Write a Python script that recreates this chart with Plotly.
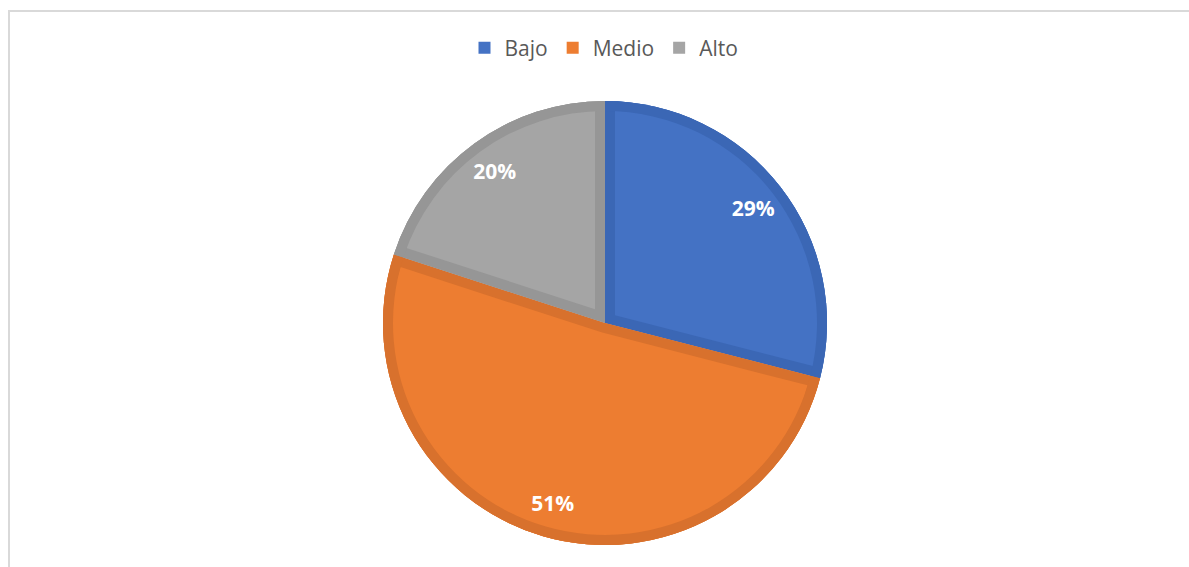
import math
import plotly.graph_objects as go

# ---- data ----
labels = ["Bajo", "Medio", "Alto"]
values = [29, 51, 20]

# ---- styles ----
light_colors = ["#4472C4", "#ED7D31", "#A5A5A5"]
dark_colors = ["#3B67B5", "#D8712D", "#969696"]
TRANSPARENT = "rgba(0,0,0,0)"

W, H = 1189, 567
M_L, M_R, M_T, M_B = 21, 0, 101, 22
R = min(W - M_L - M_R, H - M_T - M_B) / 2.0   # pie radius in px
BAND = 10.0                                    # darker inner border width in px

total = float(sum(values))
common = dict(labels=labels, values=values, sort=False, direction="clockwise",
              rotation=0, hoverinfo="skip", textinfo="none")

fig = go.Figure()

# legend carrier (fully hidden beneath the dark pie)
fig.add_trace(go.Pie(marker=dict(colors=light_colors, line=dict(width=0)),
                     showlegend=True, **common))

# dark full pie (border colour)
fig.add_trace(go.Pie(marker=dict(colors=dark_colors, line=dict(width=0)),
                     showlegend=False, **common))

# light inner part of every slice: pulled so that its radial edges sit BAND px inside
for k in range(len(values)):
    theta = 2 * math.pi * values[k] / total
    d = BAND / math.sin(theta / 2)
    p = d / (R - d)
    cols = [light_colors[k] if j == k else TRANSPARENT for j in range(len(values))]
    pulls = [p if j == k else 0 for j in range(len(values))]
    fig.add_trace(go.Pie(marker=dict(colors=cols, line=dict(width=0)),
                         pull=pulls, showlegend=False, **common))

# dark outer ring (arc border)
fig.add_trace(go.Pie(marker=dict(colors=dark_colors, line=dict(width=0)),
                     hole=(R - BAND) / R, showlegend=False, **common))

# labels
text_common = dict(common)
text_common.pop("textinfo")
fig.add_trace(go.Pie(marker=dict(colors=[TRANSPARENT] * len(values), line=dict(width=0)),
                     hole=0.69, showlegend=False,
                     texttemplate="%{percent:.0%}", textposition="inside",
                     insidetextorientation="horizontal",
                     textfont=dict(family="Open Sans", size=21, color="white", weight="bold"),
                     **text_common))

px_to_x = lambda px: (px - M_L) / (W - M_L - M_R)
py_to_y = lambda py: (H - M_B - py) / (H - M_T - M_B)

fig.update_layout(
    width=W, height=H, autosize=False,
    margin=dict(l=M_L, r=M_R, t=M_T, b=M_B),
    paper_bgcolor="white", plot_bgcolor="white",
    font=dict(family="Open Sans", color="#595959"),
    legend=dict(orientation="h", x=px_to_x(604), xanchor="center",
                y=py_to_y(48), yanchor="middle",
                font=dict(family="Open Sans", size=21, color="#595959"),
                itemwidth=30, bgcolor="rgba(0,0,0,0)"),
    shapes=[dict(type="rect", xref="paper", yref="paper",
                 x0=px_to_x(9), x1=px_to_x(W + 20),
                 y0=py_to_y(H + 20), y1=py_to_y(11),
                 line=dict(color="#D9D9D9", width=2), fillcolor=TRANSPARENT,
                 layer="below")],
)

fig.write_html("out.html")
